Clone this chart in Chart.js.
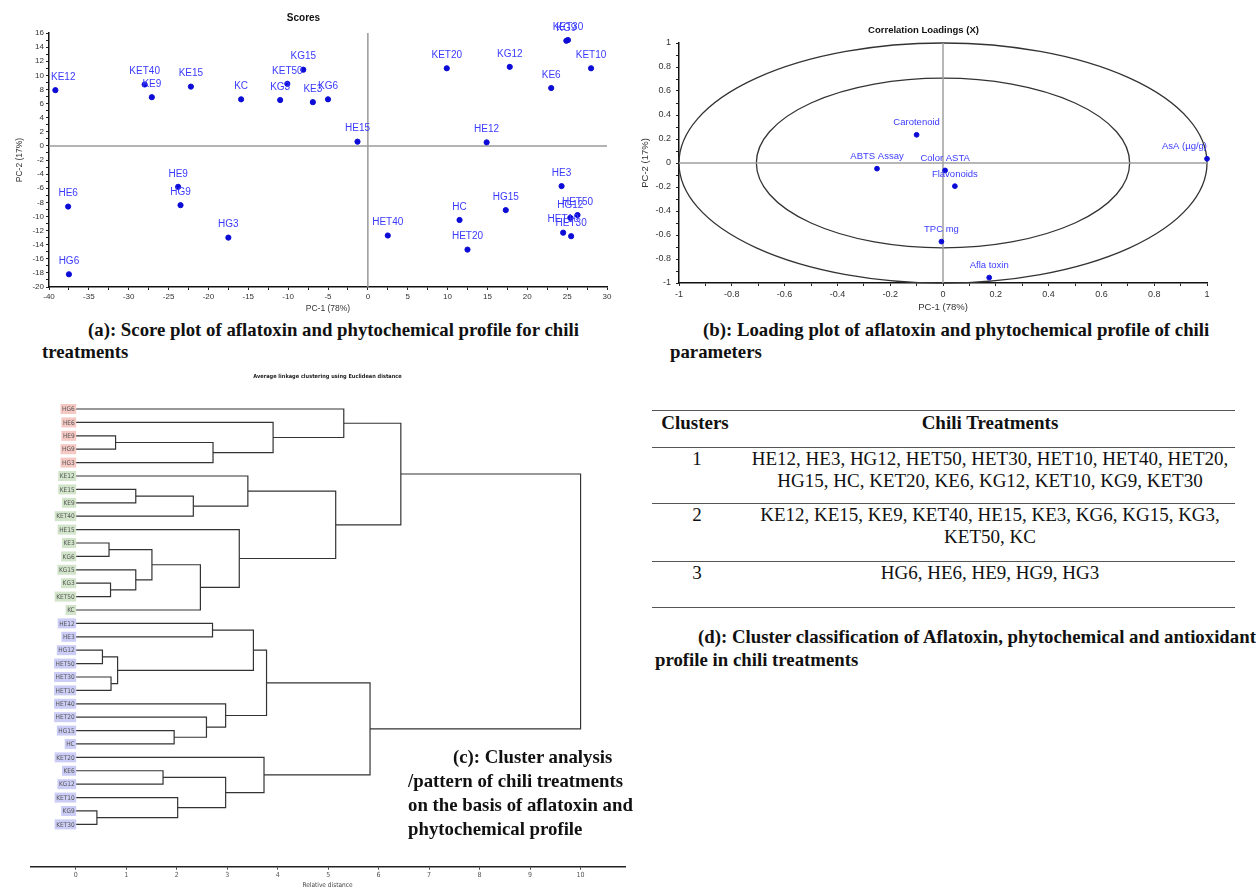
<!DOCTYPE html>
<html lang="en">
<head>
<meta charset="UTF-8">
<title>Chili treatments: PCA and clustering</title>
<script src="https://cdn.jsdelivr.net/npm/chart.js"></script>
<style>
  html, body { margin: 0; padding: 0; background: #fff; }
  #page { position: relative; width: 1256px; height: 893px; overflow: hidden;
          font-family: "Liberation Serif", "Times New Roman", serif; color: #111; }
  canvas { position: absolute; }
  .cap { position: absolute; font-weight: bold; font-size: 18.8px; white-space: nowrap; }
  .rule { position: absolute; height: 0; border-top: 1.5px solid #555; }
  .txt { position: absolute; white-space: nowrap; font-size: 19px; line-height: 22px;
         transform: translateX(-50%); }
</style>
</head>
<body>
<div id="page">
  <canvas id="scores" width="620" height="318" style="left:0;top:0"></canvas>
  <canvas id="loadings" width="616" height="318" style="left:640px;top:0"></canvas>
  <canvas id="dendro" width="600" height="523" style="left:30px;top:370px"></canvas>

  <div class="cap" style="left:42px;top:319px;line-height:22px;text-indent:46px">(a): Score plot of aflatoxin and phytochemical profile for chili<br>treatments</div>
  <div class="cap" style="left:670px;top:319px;line-height:22px;text-indent:33px">(b): Loading plot of aflatoxin and phytochemical profile of chili<br>parameters</div>
  <div class="cap" style="left:408px;top:745px;line-height:24px;text-indent:45px">(c): Cluster analysis<br>/pattern of chili treatments<br>on the basis of aflatoxin and<br>phytochemical profile</div>
  <div class="cap" style="left:655px;top:625px;line-height:23px;text-indent:43px">(d): Cluster classification of Aflatoxin, phytochemical and antioxidant<br>profile in chili treatments</div>
</div>

<script>
    // (a) PCA scores
    const scoreNames = ['KE12', 'KET40', 'KE9', 'KE15', 'KC', 'KG3', 'KET50', 'KG15', 'KE3', 'KG6', 'HE15',
        'KET20', 'KG12', 'KG9', 'KET30', 'KET10', 'KE6', 'HE12', 'HE9', 'HG9', 'HE6', 'HG6', 'HG3',
        'HET40', 'HC', 'HET20', 'HG15', 'HE3', 'HET50', 'HG12', 'HET10', 'HET30'];
    const scorePC1 = [-39.2, -28.0, -27.1, -22.2, -15.9, -11.0, -10.1, -8.1, -6.9, -5.0, -1.3,
        9.9, 17.8, 24.9, 25.1, 28.0, 23.0, 14.9, -23.8, -23.5, -37.6, -37.5, -17.5,
        2.5, 11.5, 12.5, 17.3, 24.3, 26.3, 25.4, 24.5, 25.5];
    const scorePC2 = [7.9, 8.7, 6.9, 8.4, 6.6, 6.5, 8.8, 10.8, 6.2, 6.6, 0.6,
        11.0, 11.2, 14.9, 15.0, 11.0, 8.2, 0.5, -5.8, -8.4, -8.6, -18.2, -13.0,
        -12.7, -10.5, -14.7, -9.1, -5.7, -9.8, -10.2, -12.3, -12.8];
    const scoreXTicks = [-40, -35, -30, -25, -20, -15, -10, -5, 0, 5, 10, 15, 20, 25, 30];
    const scoreYTicks = [-20, -18, -16, -14, -12, -10, -8, -6, -4, -2, 0, 2, 4, 6, 8, 10, 12, 14, 16];

    // (b) correlation loadings
    const loadNames = ['Carotenoid', 'ABTS Assay', 'Color ASTA', 'Flavonoids', 'TPC mg', 'Afla toxin', 'AsA (µg/g)'];
    const loadPC1 = [-0.10, -0.25, 0.008, 0.045, -0.006, 0.175, 1.0];
    const loadPC2 = [0.235, -0.047, -0.062, -0.193, -0.655, -0.955, 0.035];
    const loadTicks = [-1, -0.8, -0.6, -0.4, -0.2, 0, 0.2, 0.4, 0.6, 0.8, 1];
    const circleRadii = [1, 0.707];

    // (c) dendrogram, leaves top to bottom, merges in order
    const leaves = ['HG6', 'HE6', 'HE9', 'HG9', 'HG3', 'KE12', 'KE15', 'KE9', 'KET40', 'HE15', 'KE3', 'KG6',
        'KG15', 'KG3', 'KET50', 'KC', 'HE12', 'HE3', 'HG12', 'HET50', 'HET30', 'HET10', 'HET40', 'HET20',
        'HG15', 'HC', 'KET20', 'KE6', 'KG12', 'KET10', 'KG9', 'KET30'];
    const mergeLeft = ['HE9', 'm0', 'HE6', 'HG6', 'KE15', 'm4', 'KE12', 'KE3', 'KG3', 'KG15', 'm7', 'm10',
        'HE15', 'm6', 'm3', 'HE12', 'HG12', 'HET30', 'm16', 'm15', 'HG15', 'HET20', 'HET40', 'm19',
        'KG9', 'KET10', 'KE6', 'm26', 'KET20', 'm23', 'm14'];
    const mergeRight = ['HG9', 'HG3', 'm1', 'm2', 'KE9', 'KET40', 'm5', 'KG6', 'KET50', 'm8', 'm9', 'KC',
        'm11', 'm12', 'm13', 'HE3', 'HET50', 'HET10', 'm17', 'm18', 'HC', 'm20', 'm21', 'm22',
        'KET30', 'm24', 'KG12', 'm25', 'm27', 'm28', 'm29'];
    const mergeHeight = [0.79, 2.72, 3.91, 5.31, 1.19, 2.33, 3.41, 0.66, 0.69, 1.19, 1.51, 2.47,
        3.24, 5.15, 6.44, 2.71, 0.53, 0.70, 0.83, 3.52, 1.95, 2.59, 2.97, 3.78,
        0.42, 2.02, 1.73, 2.97, 3.73, 5.83, 10.0];
    const distTicks = [0, 1, 2, 3, 4, 5, 6, 7, 8, 9, 10];

    // (d) cluster table
    const cluster1 = ['HE12', 'HE3', 'HG12', 'HET50', 'HET30', 'HET10', 'HET40', 'HET20',
        'HG15', 'HC', 'KET20', 'KE6', 'KG12', 'KET10', 'KG9', 'KET30'];
    const cluster2 = ['KE12', 'KE15', 'KE9', 'KET40', 'HE15', 'KE3', 'KG6', 'KG15', 'KG3', 'KET50', 'KC'];
    const cluster3 = ['HG6', 'HE6', 'HE9', 'HG9', 'HG3'];

    const SANS = '"Liberation Sans", Arial, sans-serif';
    const NARROW = '"Liberation Sans Narrow", "DejaVu Sans Condensed", sans-serif';

    function withMinor(majors) {
        const out = [];
        majors.forEach((v, i) => {
            out.push(v);
            if (i < majors.length - 1) out.push((v + majors[i + 1]) / 2);
        });
        return out;
    }

    function isMajor(majors, v) {
        return majors.some(m => Math.abs(m - v) < 1e-6);
    }

    function pcaAxis(o) {
        return {
            min: o.min,
            max: o.max,
            afterBuildTicks: s => { s.ticks = withMinor(o.majors).map(v => ({ value: v })); },
            afterFit: s => { if (s.isHorizontal()) s.height = o.size; else s.width = o.size; },
            grid: { drawOnChartArea: false, tickLength: 3, tickColor: '#222' },
            border: { color: '#111', width: 1.5 },
            ticks: {
                autoSkip: false, maxRotation: 0, padding: o.pad, color: '#333',
                font: { family: SANS, size: o.font },
                callback: v => isMajor(o.majors, v) ? String(Math.round(v * 10) / 10) : ''
            },
            title: { display: true, text: o.title, color: '#333',
                     font: { family: SANS, size: o.font + 0.5 }, padding: o.titlePad }
        };
    }

    // names above the points, kept inside the plot area
    const pointLabels = {
        id: 'pointLabels',
        afterDatasetsDraw(chart, args, opts) {
            const { ctx, chartArea } = chart;
            const names = chart.data.datasets[0].names;
            ctx.save();
            ctx.font = opts.font;
            ctx.fillStyle = opts.color;
            ctx.textAlign = 'center';
            ctx.textBaseline = 'middle';
            chart.getDatasetMeta(0).data.forEach((pt, i) => {
                const w = ctx.measureText(names[i]).width;
                const x = Math.min(Math.max(pt.x, chartArea.left + w / 2 + 2), chartArea.right - w / 2);
                ctx.fillText(names[i], x, pt.y - opts.offset);
            });
            ctx.restore();
        }
    };

    // grey lines through the origin
    const refLines = {
        id: 'refLines',
        beforeDatasetsDraw(chart, args, opts) {
            const { ctx, chartArea, scales: { x, y } } = chart;
            ctx.save();
            ctx.strokeStyle = opts.color;
            ctx.lineWidth = 1.5;
            ctx.beginPath();
            ctx.moveTo(x.getPixelForValue(0), chartArea.top);
            ctx.lineTo(x.getPixelForValue(0), chartArea.bottom);
            ctx.moveTo(chartArea.left, y.getPixelForValue(0));
            ctx.lineTo(chartArea.right, y.getPixelForValue(0));
            ctx.stroke();
            ctx.restore();
        }
    };

    // correlation circles (drawn through the scales, so they come out as ellipses)
    const circles = {
        id: 'circles',
        beforeDatasetsDraw(chart, args, opts) {
            const { ctx, scales: { x, y } } = chart;
            const cx = x.getPixelForValue(0), cy = y.getPixelForValue(0);
            ctx.save();
            ctx.strokeStyle = opts.color;
            ctx.lineWidth = 1.3;
            circleRadii.forEach(r => {
                ctx.beginPath();
                ctx.ellipse(cx, cy, Math.abs(x.getPixelForValue(r) - cx), Math.abs(cy - y.getPixelForValue(r)), 0, 0, Math.PI * 2);
                ctx.stroke();
            });
            ctx.restore();
        }
    };

    function clusterOf(name) {
        if (cluster1.includes(name)) return 0;
        if (cluster2.includes(name)) return 1;
        return 2;
    }

    // coloured leaf names left of the dendrogram
    const leafLabels = {
        id: 'leafLabels',
        afterDraw(chart, args, opts) {
            const { ctx, scales: { x, y } } = chart;
            const right = x.getPixelForValue(0) - opts.gap;
            ctx.save();
            ctx.font = opts.font;
            ctx.textAlign = 'right';
            ctx.textBaseline = 'middle';
            leaves.forEach((name, i) => {
                const py = y.getPixelForValue(i);
                const w = ctx.measureText(name).width;
                ctx.fillStyle = opts.backgrounds[clusterOf(name)];
                ctx.fillRect(right - w - 1.5, py - 5, w + 3, 10);
                ctx.fillStyle = opts.color;
                ctx.fillText(name, right, py + 0.5);
            });
            ctx.restore();
        }
    };

    new Chart(document.getElementById('scores'), {
        type: 'scatter',
        data: {
            datasets: [{
                data: scoreNames.map((n, i) => ({ x: scorePC1[i], y: scorePC2[i] })),
                names: scoreNames,
                backgroundColor: '#0c0cd6',
                borderColor: '#0c0cd6',
                pointRadius: 2.6,
                clip: false
            }]
        },
        options: {
            responsive: false,
            animation: false,
            layout: { padding: { left: 0, right: 13, top: 0, bottom: 0 } },
            plugins: {
                legend: { display: false },
                tooltip: { enabled: false },
                title: { display: true, text: 'Scores', color: '#111',
                         font: { family: SANS, size: 10, weight: 'bold' }, padding: { top: 12, bottom: 9 } },
                pointLabels: { font: '10px ' + SANS, color: '#3a3aff', offset: 13 },
                refLines: { color: '#9a9a9a' }
            },
            scales: {
                x: pcaAxis({ min: -40, max: 30, majors: scoreXTicks, size: 31, pad: 2, font: 8,
                             title: 'PC-1 (78%)', titlePad: { top: 0, bottom: 4.6 } }),
                y: pcaAxis({ min: -20, max: 16, majors: scoreYTicks, size: 49, pad: 2, font: 8,
                             title: 'PC-2 (17%)', titlePad: { top: 15, bottom: 0 } })
            }
        },
        plugins: [refLines, pointLabels]
    });

    new Chart(document.getElementById('loadings'), {
        type: 'scatter',
        data: {
            datasets: [{
                data: loadNames.map((n, i) => ({ x: loadPC1[i], y: loadPC2[i] })),
                names: loadNames,
                backgroundColor: '#0c0cd6',
                borderColor: '#0c0cd6',
                pointRadius: 2.4,
                clip: false
            }]
        },
        options: {
            responsive: false,
            animation: false,
            layout: { padding: { left: 0, right: 49, top: 0, bottom: 0 } },
            plugins: {
                legend: { display: false },
                tooltip: { enabled: false },
                title: { display: true, text: 'Correlation Loadings (X)', color: '#111',
                         font: { family: SANS, size: 9.5, weight: 'bold' }, padding: { top: 24.3, bottom: 7.3 } },
                pointLabels: { font: '9.5px ' + SANS, color: '#3a3aff', offset: 12 },
                refLines: { color: '#a0a0a0' },
                circles: { color: '#333' }
            },
            scales: {
                x: pcaAxis({ min: -1, max: 1, majors: loadTicks, size: 35, pad: 3, font: 9,
                             title: 'PC-1 (78%)', titlePad: { top: 0, bottom: 4.6 } }),
                y: pcaAxis({ min: -1, max: 1, majors: loadTicks, size: 39, pad: 5, font: 9,
                             title: 'PC-2 (17%)', titlePad: { top: 0, bottom: 0 } })
            }
        },
        plugins: [circles, refLines, pointLabels]
    });

    // each merge becomes one bracket: child height -> merge height -> other child
    const nodeY = {}, nodeH = {};
    leaves.forEach((n, i) => { nodeY[n] = i; nodeH[n] = 0; });
    const links = mergeLeft.map((l, i) => {
        const r = mergeRight[i], h = mergeHeight[i];
        nodeY['m' + i] = (nodeY[l] + nodeY[r]) / 2;
        nodeH['m' + i] = h;
        return {
            data: [{ x: nodeH[l], y: nodeY[l] }, { x: h, y: nodeY[l] }, { x: h, y: nodeY[r] }, { x: nodeH[r], y: nodeY[r] }],
            showLine: true,
            borderColor: '#333',
            borderWidth: 1.2,
            pointRadius: 0,
            fill: false
        };
    });

    new Chart(document.getElementById('dendro'), {
        type: 'scatter',
        data: { datasets: links },
        options: {
            responsive: false,
            animation: false,
            layout: { padding: { left: 0, right: 5, top: 0, bottom: 0 } },
            plugins: {
                legend: { display: false },
                tooltip: { enabled: false },
                title: { display: true, text: 'Average linkage clustering using Euclidean distance', color: '#222',
                         font: { family: NARROW, size: 5.6, weight: 'bold' }, padding: { top: 3, bottom: 15.9 } },
                leafLabels: { font: '6.5px ' + NARROW, color: '#555', gap: 1,
                              backgrounds: ['#cccdf6', '#d2e5cb', '#f5c8c4'] }
            },
            scales: {
                x: {
                    min: -0.905,
                    max: 10.88,
                    afterBuildTicks: s => { s.ticks = distTicks.map(v => ({ value: v })); },
                    afterFit: s => { s.height = 26.3; },
                    grid: { drawOnChartArea: false, tickLength: 3, tickColor: '#444' },
                    border: { color: '#222', width: 1.5 },
                    ticks: { autoSkip: false, maxRotation: 0, padding: 1, color: '#555',
                             font: { family: NARROW, size: 7 } },
                    title: { display: true, text: 'Relative distance', color: '#444',
                             font: { family: NARROW, size: 6.5 }, padding: { top: 0, bottom: 3.8 } }
                },
                y: { display: false, reverse: true, min: -1, max: 34.16 }
            }
        },
        plugins: [leafLabels]
    });

    // table (d)
    const page = document.getElementById('page');

    function addRule(y, x1, x2) {
        const d = document.createElement('div');
        d.className = 'rule';
        d.style.left = x1 + 'px';
        d.style.top = y + 'px';
        d.style.width = (x2 - x1) + 'px';
        page.appendChild(d);
    }

    function addText(text, cx, cy, bold) {
        const d = document.createElement('div');
        d.className = 'txt';
        d.textContent = text;
        d.style.left = cx + 'px';
        d.style.top = (cy - 11) + 'px';
        if (bold) d.style.fontWeight = 'bold';
        page.appendChild(d);
    }

    [410, 447, 503, 561, 607].forEach(y => addRule(y, 652, 1235));
    addText('Clusters', 695, 423, true);
    addText('Chili Treatments', 990, 423, true);

    const rows = [[cluster1, 8, 459], [cluster2, 9, 515], [cluster3, 5, 573]];
    rows.forEach(([list, split, y], i) => {
        addText(String(i + 1), 697, y);
        const first = list.slice(0, split).join(', ') + (split < list.length ? ',' : '');
        addText(first, 990, y);
        if (split < list.length) addText(list.slice(split).join(', '), 990, y + 22);
    });
</script>
</body>
</html>
